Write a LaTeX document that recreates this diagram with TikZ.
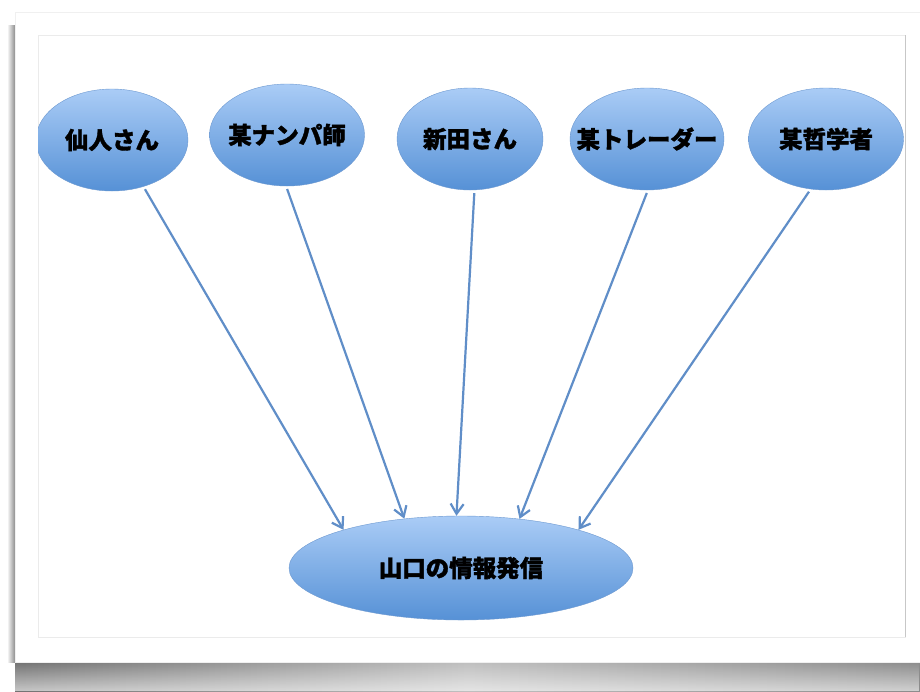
\documentclass[tikz,border=0pt]{standalone}
\usepackage{fontspec}
\newfontfamily\jpfont{Noto Sans CJK JP}[BoldFeatures={FakeBold=1.6}]
\usetikzlibrary{shapes.geometric,arrows.meta,fadings}
\definecolor{bubtop}{RGB}{170,204,246}
\definecolor{bubbot}{RGB}{86,145,214}
\definecolor{bubrim}{RGB}{108,152,208}
\definecolor{linkblue}{RGB}{96,142,200}
\tikzset{
>={Straight Barb[length=10pt,width=13pt]},
  bubble/.style={
    ellipse,
    top color=bubtop,
    bottom color=bubbot,
    draw=bubrim, thin,
    minimum width=152pt,
    minimum height=102pt,
    inner sep=0pt,
    text=black,
    font=\jpfont\bfseries\fontsize{23.5}{28}\selectfont,
    % text may run past the rim, as in the picture
    execute at begin node=\hbox to 0pt\bgroup\hss,
    execute at end node=\hss\egroup},
  feed/.style={draw=linkblue, line width=2.2pt, ->, shorten <=3pt},
}

\begin{document}
\begin{tikzpicture}[x=1pt, y=-1pt]
    \useasboundingbox (0,0) rectangle (920,691);
    % the sheet with its shadow
    \shade[left color=black!55, right color=black!45, middle color=black!25] (15,662) rectangle (920,691);
    \fill[white, opacity=0.6, path fading=north] (15,662) rectangle (920,691);
    \shade[left color=white, right color=black!45] (7,25) rectangle (15,662);
    \fill[white, draw=black!6] (15,12) rectangle (925,662);
    \draw[black!8] (38,35) rectangle (905,637);
    \draw[black!22, thick] (905,35) -- (905,637);

    \begin{scope}
        \clip (38,35) rectangle (905,637);
        \node[bubble] (sennin) at (112,140) {仙人さん};
        \node[bubble, minimum width=155pt] (nanpa) at (287,135) {某ナンパ師};
        \node[bubble, minimum width=146pt] (nitta) at (470,139) {新田さん};
        \node[bubble, minimum width=154pt] (trader) at (647,139) {某トレーダー};
        \node[bubble, minimum width=155pt] (tetsu) at (826,139) {某哲学者};
        \node[bubble, minimum width=344pt, minimum height=104pt] (hasshin) at (461,568) {山口の情報発信};
    \end{scope}

    % everyone feeds the bottom one
    \draw[feed] (sennin.304) -- (hasshin.162);
    \draw[feed] (nanpa.269) -- (hasshin.139);
    \draw[feed] (nitta.275) -- (hasshin.95);
    \draw[feed] (trader.271) -- (hasshin.40);
    \draw[feed] (tetsu.253) -- (hasshin.18);
\end{tikzpicture}
\end{document}
